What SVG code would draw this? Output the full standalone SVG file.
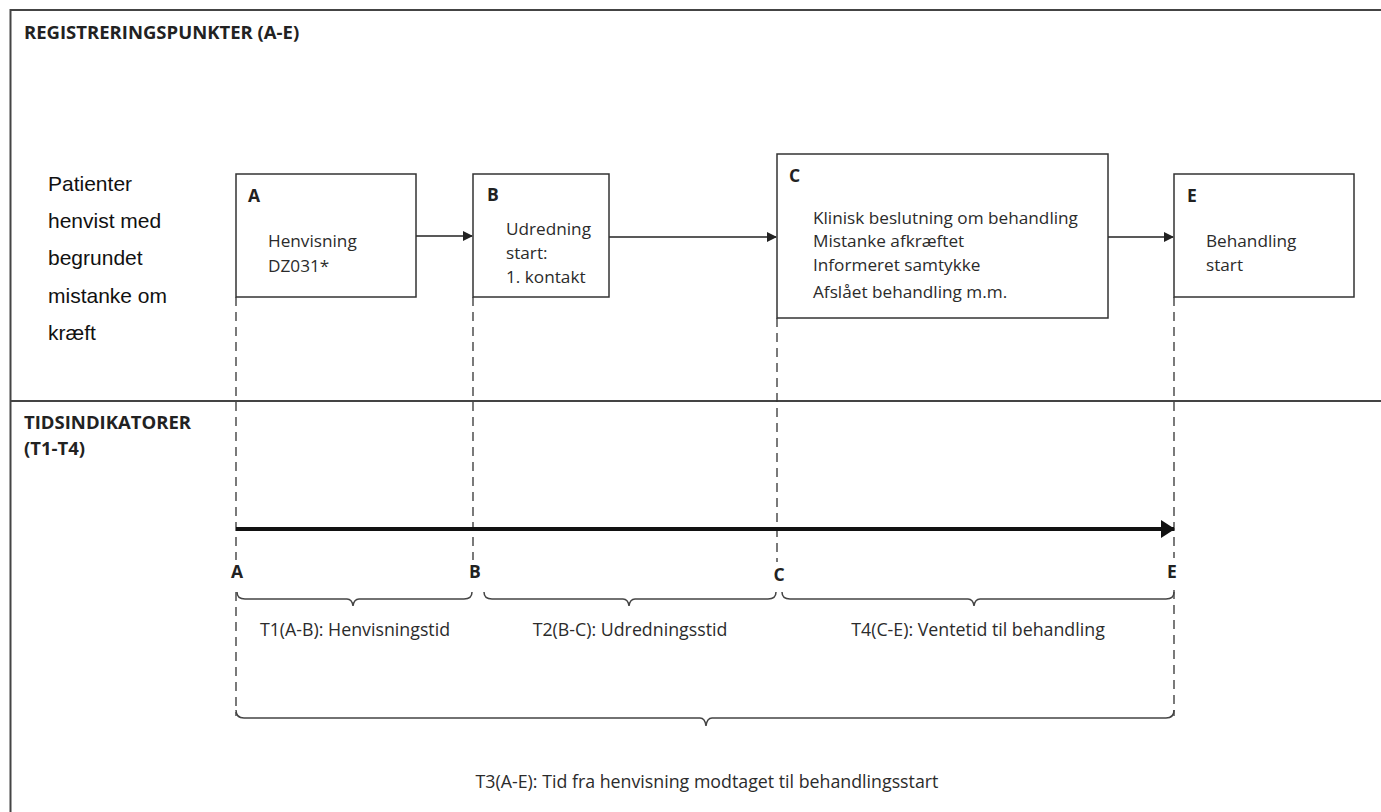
<svg xmlns="http://www.w3.org/2000/svg" width="1381" height="812" viewBox="0 0 1381 812">
<style>
.frame{stroke:#444;stroke-width:2;fill:none}
.box{fill:#fff;stroke:#333;stroke-width:1.5}
.t{font-family:"Open Sans","Liberation Sans",sans-serif;font-size:17.2px;fill:#2b2b2b}
.bl{font-family:"Open Sans","Liberation Sans",sans-serif;font-size:17.8px;fill:#2b2b2b}
.b{font-family:"Open Sans","Liberation Sans",sans-serif;font-size:17.5px;font-weight:bold;fill:#222}
.h{font-family:"Open Sans","Liberation Sans",sans-serif;font-size:18.5px;font-weight:bold;fill:#222}
.side{font-family:"Liberation Sans",Arial,sans-serif;font-size:21px;fill:#111}
.conn{stroke:#222;stroke-width:1.5;fill:none}
.dash{stroke:#333;stroke-width:1.3;stroke-dasharray:9,6;fill:none}
.brace{stroke:#444;stroke-width:1.5;fill:none}
</style>
<defs>
<marker id="ah" markerWidth="10" markerHeight="10" refX="9" refY="5" orient="auto" markerUnits="userSpaceOnUse">
<path d="M0,0 L10,5 L0,10 z" fill="#222"/>
</marker>
<marker id="ahBig" markerWidth="14" markerHeight="18" refX="13" refY="9" orient="auto" markerUnits="userSpaceOnUse">
<path d="M0,0 L14,9 L0,18 z" fill="#111"/>
</marker>
</defs>
<rect width="1381" height="812" fill="#fff"/>
<g id="frame">
<path class="frame" d="M10.5,820 L10.5,10 L1390,10"/>
<line class="frame" x1="10" y1="401" x2="1390" y2="401"/>
<text class="h" x="24" y="39">REGISTRERINGSPUNKTER (A-E)</text>
<text class="h" x="24" y="429">TIDSINDIKATORER</text>
<text class="h" x="24" y="455">(T1-T4)</text>
</g>
<g id="side-label">
<text class="side" x="48" y="191">Patienter</text>
<text class="side" x="48" y="228">henvist med</text>
<text class="side" x="48" y="265">begrundet</text>
<text class="side" x="48" y="303">mistanke om</text>
<text class="side" x="48" y="340">kræft</text>
</g>
<g id="connectors">
<line class="dash" x1="236" y1="297" x2="236" y2="560"/>
<line class="dash" x1="236" y1="592" x2="236" y2="716"/>
<line class="dash" x1="473" y1="297" x2="473" y2="560"/>
<line class="dash" x1="777" y1="318" x2="777" y2="562"/>
<line class="dash" x1="1174" y1="297" x2="1174" y2="558"/>
<line class="dash" x1="1174" y1="590" x2="1174" y2="716"/>
<line class="conn" x1="416" y1="236" x2="472" y2="236" marker-end="url(#ah)"/>
<line class="conn" x1="609" y1="237" x2="776" y2="237" marker-end="url(#ah)"/>
<line class="conn" x1="1108" y1="237" x2="1173" y2="237" marker-end="url(#ah)"/>
<line x1="236" y1="529" x2="1174" y2="529" stroke="#111" stroke-width="4" marker-end="url(#ahBig)"/>
</g>
<g id="node-A">
<rect class="box" x="236" y="174" width="180" height="123"/>
<text class="b" x="248" y="202">A</text>
<text class="t" x="268" y="247">Henvisning</text>
<text class="t" x="268" y="272">DZ031*</text>
</g>
<g id="node-B">
<rect class="box" x="473" y="174" width="136" height="123"/>
<text class="b" x="487" y="201">B</text>
<text class="t" x="506" y="235">Udredning</text>
<text class="t" x="506" y="259">start:</text>
<text class="t" x="506" y="283">1. kontakt</text>
</g>
<g id="node-C">
<rect class="box" x="777" y="154" width="331" height="164"/>
<text class="b" x="789" y="182">C</text>
<text class="t" x="813" y="224">Klinisk beslutning om behandling</text>
<text class="t" x="813" y="247">Mistanke afkræftet</text>
<text class="t" x="813" y="271">Informeret samtykke</text>
<text class="t" x="813" y="298">Afslået behandling m.m.</text>
</g>
<g id="node-E">
<rect class="box" x="1174" y="174" width="180" height="123"/>
<text class="b" x="1187" y="202">E</text>
<text class="t" x="1206" y="247">Behandling</text>
<text class="t" x="1206" y="271">start</text>
</g>
<g id="timeline-labels">
<text class="b" x="237" y="578" text-anchor="middle">A</text>
<text class="b" x="475" y="578" text-anchor="middle">B</text>
<text class="b" x="779" y="581" text-anchor="middle">C</text>
<text class="b" x="1172" y="578" text-anchor="middle">E</text>
</g>
<g id="braces">
<path class="brace" d="M237,592 Q237,599 245,599 L347,599 Q352,599 353,606 Q354,599 359,599 L464,599 Q472,599 472,592"/>
<path class="brace" d="M484,592 Q484,599 492,599 L623,599 Q628,599 629,606 Q630,599 635,599 L768,599 Q776,599 776,592"/>
<path class="brace" d="M782,592 Q782,599 790,599 L968,599 Q973,599 974,606 Q975,599 980,599 L1166,599 Q1174,599 1174,592"/>
<path class="brace" d="M236,710 Q236,718 244,718 L700,718 Q705,718 706,726 Q707,718 712,718 L1166,718 Q1174,718 1174,710"/>
<text class="bl" x="355" y="636" text-anchor="middle">T1(A-B): Henvisningstid</text>
<text class="bl" x="630" y="636" text-anchor="middle">T2(B-C): Udredningsstid</text>
<text class="bl" x="978" y="636" text-anchor="middle">T4(C-E): Ventetid til behandling</text>
<text class="bl" x="707" y="788" text-anchor="middle">T3(A-E): Tid fra henvisning modtaget til behandlingsstart</text>
</g>
</svg>
